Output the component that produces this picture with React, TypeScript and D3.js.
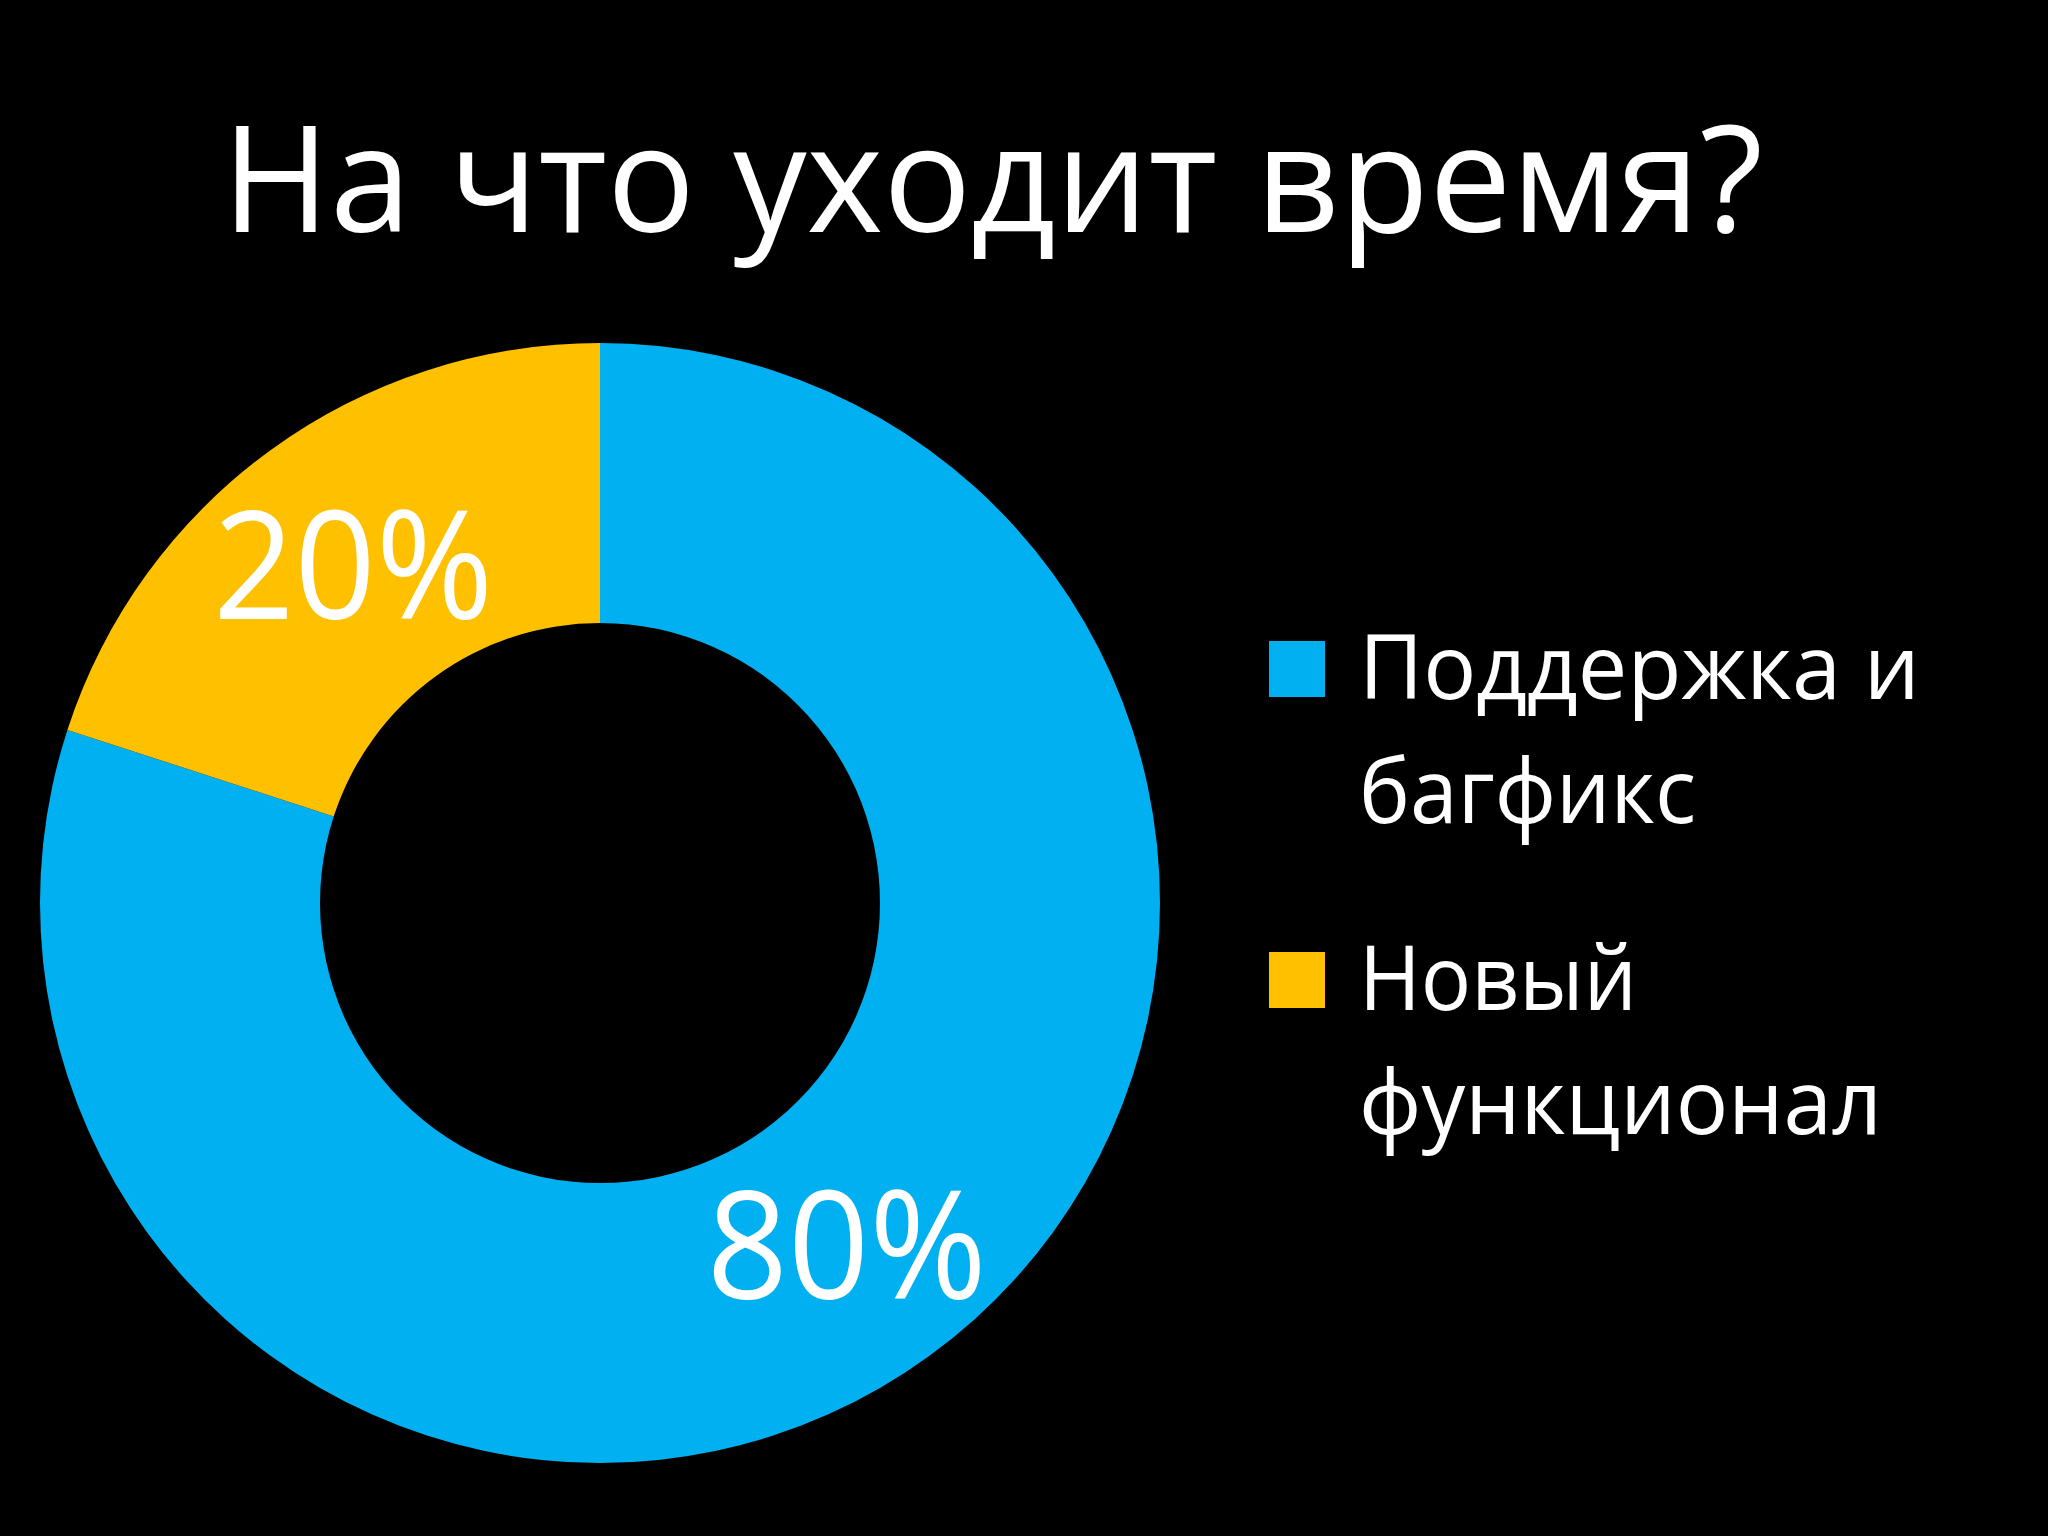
import React from "react";
import * as d3 from "d3";

const categories = ["Поддержка и багфикс", "Новый функционал"];
const legendLines = [["Поддержка и", "багфикс"], ["Новый", "функционал"]];
const values = [80, 20];
const labels = ["80%", "20%"];
const colors = ["#00B0F0", "#FFC000"];

const W = 2048;
const H = 1536;
const FONT = "'Open Sans', 'Noto Sans', sans-serif";

const App = () => {
	const cx = 600;
	const cy = 903;
	const outerR = 560;
	const innerR = 280;

	const pie = d3.pie<number>().sort(null).value((d) => d);
	const arcs = pie(values);
	const arc = d3.arc<d3.PieArcDatum<number>>().innerRadius(innerR).outerRadius(outerR);

	// legend line widths
	const legendWidths = [[561, 337], [278, 523]];
	const legendX = 1269;
	const legendTop = [641, 952];
	const box = 56;

	return (
		<svg width={W} height={H} style={{ position: "absolute", left: 0, top: 0 }}>
			<rect width={W} height={H} fill="#000" />
			<text
				x={222}
				y={232}
				fill="#fff"
				fontFamily={FONT}
				fontSize={148}
				textLength={1541}
				lengthAdjust="spacingAndGlyphs"
			>
				На что уходит время?
			</text>
			<g transform={`translate(${cx},${cy})`}>
				{arcs.map((a, i) => (
					<path key={categories[i]} d={arc(a) || ""} fill={colors[i]} />
				))}
				{arcs.map((a, i) => {
					const [x, y] = arc.centroid(a);
					return (
						<text
							key={labels[i]}
							x={x}
							y={y + 56}
							fill="#fff"
							textAnchor="middle"
							fontFamily={FONT}
							fontSize={151}
							textLength={280}
							lengthAdjust="spacingAndGlyphs"
						>
							{labels[i]}
						</text>
					);
				})}
			</g>
			{categories.map((c, i) => (
				<g key={c}>
					<rect x={legendX} y={legendTop[i]} width={box} height={box} fill={colors[i]} />
					{legendLines[i].map((line, j) => (
						<text
							key={line}
							x={legendX + 90}
							y={legendTop[i] + 58 + j * 124}
							fill="#fff"
							fontFamily={FONT}
							fontSize={90}
							textLength={legendWidths[i][j]}
							lengthAdjust="spacingAndGlyphs"
						>
							{line}
						</text>
					))}
				</g>
			))}
		</svg>
	);
};

export default App;
